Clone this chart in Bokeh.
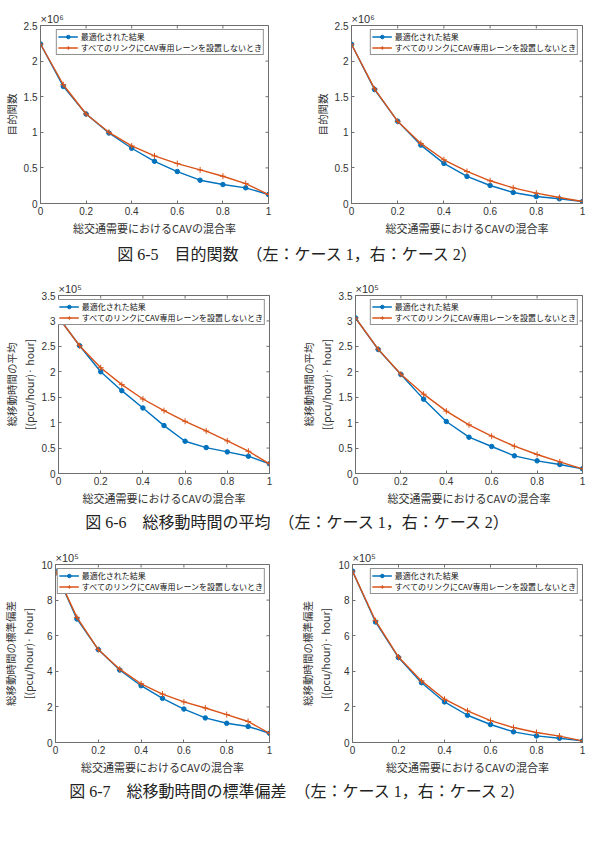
import math

from bokeh.plotting import figure
from bokeh.models import Range1d, FixedTicker, Legend, LegendItem, Div
from bokeh.layouts import column, row
from bokeh.embed import file_html
from bokeh.resources import INLINE

# 総交通需要におけるCAVの混合率
mix_ratio = [0.0, 0.1, 0.2, 0.3, 0.4, 0.5, 0.6, 0.7, 0.8, 0.9, 1.0]
x_ticks = [0, 0.2, 0.4, 0.6, 0.8, 1.0]

# 目的関数 (×10^6)
obj_case1_opt = [2.24, 1.645, 1.257, 0.99, 0.776, 0.593, 0.449, 0.327, 0.266, 0.22, 0.126]
obj_case1_base = [2.24, 1.668, 1.257, 1.0, 0.808, 0.668, 0.561, 0.472, 0.383, 0.28, 0.126]
obj_case2_opt = [2.237, 1.60, 1.154, 0.82, 0.563, 0.38, 0.253, 0.155, 0.098, 0.066, 0.028]
obj_case2_base = [2.237, 1.61, 1.154, 0.844, 0.614, 0.45, 0.319, 0.22, 0.145, 0.084, 0.028]

# 総移動時間の平均 (×10^5)
mean_case1_opt = [3.068, 2.512, 2.0, 1.629, 1.289, 0.942, 0.635, 0.51, 0.425, 0.34, 0.19]
mean_case1_base = [3.068, 2.512, 2.08, 1.747, 1.465, 1.236, 1.027, 0.837, 0.641, 0.438, 0.19]
mean_case2_opt = [3.06, 2.438, 1.947, 1.462, 1.022, 0.714, 0.531, 0.347, 0.249, 0.177, 0.092]
mean_case2_base = [3.06, 2.445, 1.953, 1.56, 1.226, 0.957, 0.734, 0.537, 0.374, 0.229, 0.092]

# 総移動時間の標準偏差 (×10^5)
std_case1_opt = [9.63, 6.94, 5.22, 4.07, 3.19, 2.48, 1.88, 1.38, 1.08, 0.9, 0.52]
std_case1_base = [9.63, 7.03, 5.22, 4.12, 3.3, 2.72, 2.28, 1.94, 1.57, 1.18, 0.52]
std_case2_opt = [9.63, 6.77, 4.77, 3.36, 2.28, 1.53, 1.01, 0.6, 0.37, 0.24, 0.09]
std_case2_base = [9.63, 6.84, 4.8, 3.46, 2.43, 1.78, 1.23, 0.84, 0.56, 0.36, 0.09]

obj_ticks = [0, 0.5, 1, 1.5, 2, 2.5]
mean_ticks = [0, 0.5, 1, 1.5, 2, 2.5, 3, 3.5]
std_ticks = [0, 2, 4, 6, 8, 10]

label_opt = "最適化された結果"
label_base = "すべてのリンクにCAV専用レーンを設置しないとき"
x_title = "総交通需要におけるCAVの混合率"
captions = [
    "図 6-5　目的関数　（左：ケース 1，右：ケース 2）",
    "図 6-6　総移動時間の平均　（左：ケース 1，右：ケース 2）",
    "図 6-7　総移動時間の標準偏差　（左：ケース 1，右：ケース 2）",
]

BLUE = "#0072BD"
ORANGE = "#D95319"
AXIS = "#6e6e6e"
TEXT = "#333333"
JP = "Noto Sans CJK JP"
NUM = "Liberation Sans"


def fmt(t):
    return str(int(t)) if float(t).is_integer() else str(t)


def style_axis(ax, ticks):
    ax.ticker = FixedTicker(ticks=ticks)
    ax.axis_line_color = AXIS
    ax.major_tick_line_color = AXIS
    ax.major_tick_in = 3
    ax.major_tick_out = 0
    ax.minor_tick_line_color = None
    ax.major_label_text_font = NUM
    ax.major_label_text_color = TEXT
    ax.major_label_text_font_size = "10px"
    ax.major_label_standoff = 3
    ax.major_label_overrides = {t: fmt(t) for t in ticks}
    ax.axis_label_text_font = JP
    ax.axis_label_text_font_style = "normal"
    ax.axis_label_text_color = TEXT
    ax.axis_label_standoff = 2


def panel(opt, base, y_max, y_ticks, y_title, exponent, width, height, borders):
    left, right, top, bottom = borders
    p = figure(width=width, height=height, output_backend="svg", toolbar_location=None,
               x_range=Range1d(0, 1), y_range=Range1d(0, y_max),
               min_border_left=left, min_border_right=right,
               min_border_top=top, min_border_bottom=bottom)
    p.xgrid.visible = False
    p.ygrid.visible = False
    p.outline_line_color = AXIS
    p.outline_line_width = 1
    p.background_fill_color = "white"
    p.border_fill_color = "white"

    # scale factor shown above the top-left corner of the box
    p.title.text = exponent
    p.title.align = "left"
    p.title.offset = 0
    p.title.standoff = 1
    p.title.text_font = NUM
    p.title.text_font_style = "normal"
    p.title.text_font_size = "11px"
    p.title.text_color = TEXT

    style_axis(p.xaxis[0], x_ticks)
    style_axis(p.yaxis[0], y_ticks)
    p.xaxis.axis_label = x_title
    p.yaxis.axis_label = y_title
    p.xaxis.axis_label_text_font_size = "11px"
    p.yaxis.axis_label_text_font_size = "10.5px"

    # inward ticks mirrored on the top and right edges of the box
    p.scatter(x_ticks, [y_max] * len(x_ticks), marker="dash", angle=math.pi / 2,
              size=6, line_color=AXIS, line_width=1)
    p.scatter([1.0] * len(y_ticks), y_ticks, marker="dash",
              size=6, line_color=AXIS, line_width=1)

    l_opt = p.line(mix_ratio, opt, line_color=BLUE, line_width=1.4)
    s_opt = p.scatter(mix_ratio, opt, marker="circle", size=4.5,
                      fill_color=BLUE, line_color=BLUE)
    l_base = p.line(mix_ratio, base, line_color=ORANGE, line_width=1.4)
    s_base = p.scatter(mix_ratio, base, marker="cross", size=6,
                       line_color=ORANGE, line_width=1)

    legend = Legend(items=[LegendItem(label=label_opt, renderers=[l_opt, s_opt]),
                           LegendItem(label=label_base, renderers=[l_base, s_base])],
                    location="top_right", margin=4, padding=1, spacing=0,
                    label_text_font=JP, label_text_font_size="8px",
                    label_text_line_height=0.9, label_text_baseline="middle",
                    label_text_color="#111111",
                    label_height=9, glyph_height=9, glyph_width=20, label_standoff=3,
                    border_line_color="#222222", border_line_width=1,
                    background_fill_color="white", background_fill_alpha=1)
    p.add_layout(legend)
    return p


def caption(text):
    return Div(text=text, width=594, height=30, margin=0,
               styles={"font-family": "'Liberation Serif', 'Noto Sans CJK JP', serif",
                       "font-size": "16px", "color": "#222222",
                       "text-align": "center", "width": "594px",
                       "line-height": "30px", "white-space": "pre"})


y_obj = "目的関数"
y_mean = "総移動時間の平均\n[(pcu/hour)· hour]"
y_std = "総移動時間の標準偏差\n[(pcu/hour)· hour]"

p1 = panel(obj_case1_opt, obj_case1_base, 2.5, obj_ticks, y_obj, "×10⁶", 297, 240, (38, 29, 25, 37))
p2 = panel(obj_case2_opt, obj_case2_base, 2.5, obj_ticks, y_obj, "×10⁶", 297, 240, (54, 12, 25, 37))
p3 = panel(mean_case1_opt, mean_case1_base, 3.5, mean_ticks, y_mean, "×10⁵", 297, 238, (42, 28, 25, 35))
p4 = panel(mean_case2_opt, mean_case2_base, 3.5, mean_ticks, y_mean, "×10⁵", 297, 238, (58, 12, 25, 35))
p5 = panel(std_case1_opt, std_case1_base, 10, std_ticks, y_std, "×10⁵", 297, 239, (39, 28, 26, 34))
p6 = panel(std_case2_opt, std_case2_base, 10, std_ticks, y_std, "×10⁵", 297, 239, (55, 12, 26, 34))

layout = column(
    row(p1, p2, spacing=0),
    caption(captions[0]),
    row(p3, p4, spacing=0),
    caption(captions[1]),
    row(p5, p6, spacing=0),
    caption(captions[2]),
    spacing=0,
)

open("out.html", "w").write(file_html(layout, INLINE))
